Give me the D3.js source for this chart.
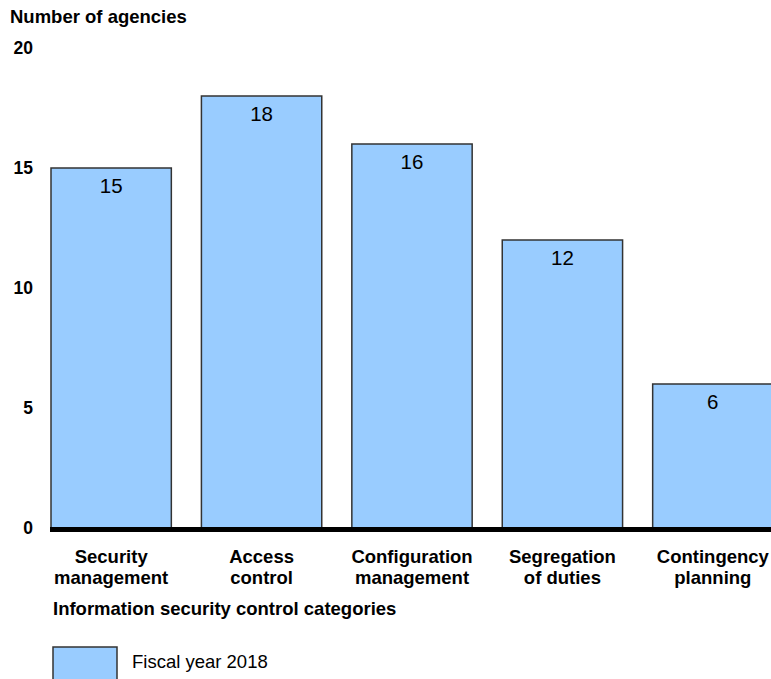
<!DOCTYPE html>
<html>
<head>
<meta charset="utf-8">
<script src="https://cdn.jsdelivr.net/npm/d3@7"></script>
<style>
  body { margin: 0; background: #fff; }
  svg { display: block; font-family: "Liberation Sans", Arial, sans-serif; }
  .tick-label, .cat-label, .axis-title { font-weight: bold; fill: #000; }
</style>
</head>
<body>
<svg class="chart" width="771" height="679"></svg>
<script>
const categories = [
  ["Security", "management"],
  ["Access", "control"],
  ["Configuration", "management"],
  ["Segregation", "of duties"],
  ["Contingency", "planning"]
]
const values2018 = [15, 18, 16, 12, 6]
const yTicks = [0, 5, 10, 15, 20]

const svg = d3.select("svg.chart")

const x = d3.scaleBand()
    .domain(d3.range(categories.length))
    .range([51, 773])
    .paddingInner(0.2)
    .paddingOuter(0)

const y = d3.scaleLinear()
    .domain([0, 20])
    .range([528, 48])

// y title
svg.append("text")
    .attr("class", "axis-title")
    .attr("x", 10)
    .attr("y", 23)
    .style("font-size", "18.5px")
    .text("Number of agencies")

// y tick labels
svg.selectAll("text.tick-label")
    .data(yTicks)
    .enter()
    .append("text")
    .attr("class", "tick-label")
    .attr("x", 33)
    .attr("y", d => y(d))
    .attr("dy", "0.36em")
    .attr("text-anchor", "end")
    .style("font-size", "17.5px")
    .text(d => d)

// bars
const bars = svg.selectAll("g.bar")
    .data(values2018)
    .enter()
    .append("g")
    .attr("class", "bar")
    .attr("transform", (d, i) => "translate(" + x(i) + ",0)")

bars.append("rect")
    .attr("x", 0)
    .attr("y", d => y(d))
    .attr("width", x.bandwidth())
    .attr("height", d => y(0) - y(d))
    .attr("fill", "#99ccff")
    .attr("stroke", "#333")
    .attr("stroke-width", 1.5)

bars.append("text")
    .attr("x", x.bandwidth() / 2)
    .attr("y", d => y(d) + 25)
    .attr("text-anchor", "middle")
    .style("font-size", "20.5px")
    .text(d => d)

// baseline
svg.append("line")
    .attr("x1", 50)
    .attr("x2", 771)
    .attr("y1", y(0) + 1.5)
    .attr("y2", y(0) + 1.5)
    .attr("stroke", "#000")
    .attr("stroke-width", 5)

// category labels
const catLabels = svg.selectAll("text.cat-label")
    .data(categories)
    .enter()
    .append("text")
    .attr("class", "cat-label")
    .attr("text-anchor", "middle")
    .style("font-size", "18.5px")
    .attr("transform", (d, i) => "translate(" + (x(i) + x.bandwidth() / 2) + ",563)")

catLabels.selectAll("tspan")
    .data(d => d)
    .enter()
    .append("tspan")
    .attr("x", 0)
    .attr("y", (d, i) => i * 21)
    .text(d => d)

// x title
svg.append("text")
    .attr("class", "axis-title")
    .attr("x", 53)
    .attr("y", 615)
    .style("font-size", "18.5px")
    .text("Information security control categories")

// legend
svg.append("rect")
    .attr("x", 53)
    .attr("y", 647)
    .attr("width", 64)
    .attr("height", 40)
    .attr("fill", "#99ccff")
    .attr("stroke", "#333")
    .attr("stroke-width", 1.5)

svg.append("text")
    .attr("x", 132)
    .attr("y", 668)
    .style("font-size", "18.5px")
    .text("Fiscal year 2018")
</script>
</body>
</html>
